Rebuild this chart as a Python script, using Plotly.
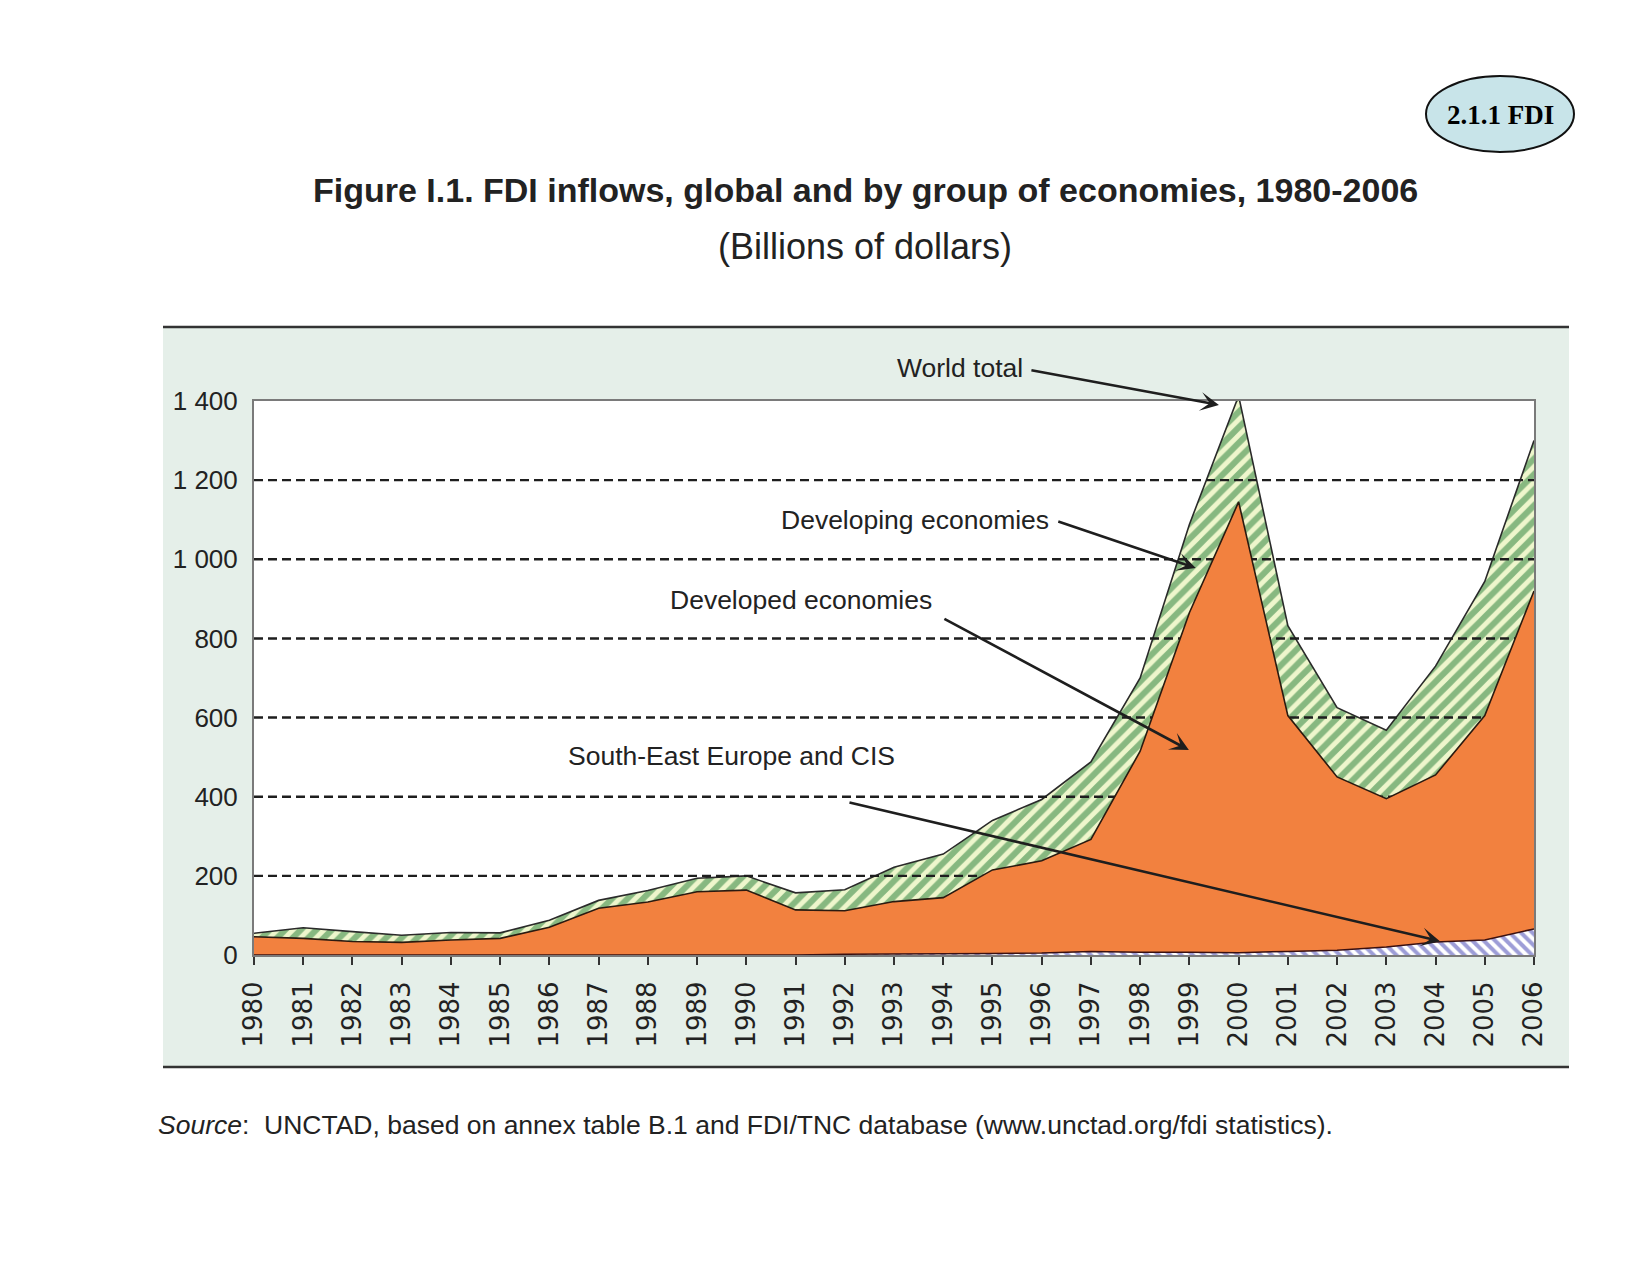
import plotly.graph_objects as go

# ---------------- data (billions of dollars) ----------------
years = list(range(1980, 2007))
developed = [46, 42, 34, 32, 38, 42, 70, 118, 134, 160,
             164, 114, 110, 133, 142, 211, 233, 283, 508, 858,
             1139, 596, 438, 375, 422, 567, 854]
developing = [9, 27, 25, 18, 19, 14, 18, 20, 29, 34,
              36, 43, 53, 87, 110, 125, 155, 196, 185, 223,
              268, 227, 175, 173, 275, 339, 380]
see_cis = [0, 0, 0, 0, 0, 0, 0, 0, 0, 0,
           0, 0, 2, 2, 3, 4, 5, 9, 7, 7,
           6, 9, 12, 20, 33, 38, 66]
y_tickvals = [0, 200, 400, 600, 800, 1000, 1200, 1400]
y_ticktext = ["0", "200", "400", "600", "800", "1 000", "1 200", "1 400"]
x_ticktext = [str(y) for y in years]

# cumulative levels for the stacked areas
lvl_see = see_cis
lvl_dev = [a + b for a, b in zip(see_cis, developed)]
lvl_world = [a + b for a, b in zip(lvl_dev, developing)]

NARROW = "Liberation Sans Narrow, Arial Narrow, Liberation Sans, Arial, sans-serif"
TXT = "#222222"

W, H = 1649, 1274
L, R, T, B = 254, 115, 401, 319

fig = go.Figure()

# developing economies (green hatch), drawn as area up to world total
fig.add_trace(go.Scatter(
    x=years, y=lvl_world, mode="lines", fill="tozeroy",
    line=dict(color="#2a2a2a", width=1.6),
    fillcolor="#eef6cc",
    fillpattern=dict(shape="/", fgcolor="#1f7a33", bgcolor="#eef6cc",
                     size=11, solidity=0.55),
    name="Developing economies", showlegend=False, hoverinfo="skip"))

# dashed gridlines (over the green band, under the orange area)
gx, gy = [], []
for v in y_tickvals[1:-1]:
    gx += [years[0], years[-1], None]
    gy += [v, v, None]
fig.add_trace(go.Scatter(x=gx, y=gy, mode="lines",
                         line=dict(color="#1e1e1e", width=2.4, dash="9px,5px"),
                         showlegend=False, hoverinfo="skip"))

# developed economies (orange)
fig.add_trace(go.Scatter(
    x=years, y=lvl_dev, mode="lines", fill="tozeroy",
    line=dict(color="#2a1a10", width=1.6),
    fillcolor="#f2813f",
    name="Developed economies", showlegend=False, hoverinfo="skip"))

# South-East Europe and CIS (blue hatch)
fig.add_trace(go.Scatter(
    x=years, y=lvl_see, mode="lines", fill="tozeroy",
    line=dict(color="#3a1010", width=1.5),
    fillcolor="#ffffff",
    fillpattern=dict(shape="\\", fgcolor="#3c3cb0", bgcolor="#ffffff",
                     size=8, solidity=0.5),
    name="South-East Europe and CIS", showlegend=False, hoverinfo="skip"))


def px_x(p):
    return (p - L) / (W - L - R)


def px_y(p):
    return (H - B - p) / (H - T - B)


shapes = [
    # light panel
    dict(type="rect", xref="paper", yref="paper", layer="below",
         x0=px_x(163), x1=px_x(1569), y0=px_y(1067), y1=px_y(327),
         fillcolor="#e5efe9", line=dict(width=0)),
    # white plotting area
    dict(type="rect", xref="paper", yref="paper", layer="below",
         x0=0, x1=1, y0=0, y1=1, fillcolor="#ffffff", line=dict(width=0)),
    # panel top and bottom rules
    dict(type="line", xref="paper", yref="paper",
         x0=px_x(163), x1=px_x(1569), y0=px_y(327), y1=px_y(327),
         line=dict(color="#333333", width=2.5)),
    dict(type="line", xref="paper", yref="paper",
         x0=px_x(163), x1=px_x(1569), y0=px_y(1067), y1=px_y(1067),
         line=dict(color="#333333", width=2.5)),
    # badge ellipse
    dict(type="circle", xref="paper", yref="paper",
         x0=px_x(1426), x1=px_x(1574), y0=px_y(152), y1=px_y(76),
         fillcolor="#c8e4e9", line=dict(color="#111111", width=2)),
]

annotations = [
    dict(text="<b>2.1.1 FDI</b>", xref="paper", yref="paper",
         x=px_x(1500), y=px_y(115), xanchor="center", yanchor="middle",
         showarrow=False,
         font=dict(family="Liberation Serif, Times New Roman, serif", size=27, color="#000000")),
    dict(text="<b>Figure I.1. FDI inflows, global and by group of economies, 1980-2006</b>",
         xref="paper", yref="paper", x=px_x(865), y=px_y(190),
         xanchor="center", yanchor="middle", showarrow=False,
         font=dict(family=NARROW, size=34, color=TXT)),
    dict(text="(Billions of dollars)", xref="paper", yref="paper",
         x=px_x(865), y=px_y(246), xanchor="center", yanchor="middle",
         showarrow=False, font=dict(family=NARROW, size=36, color=TXT)),
    dict(text="<i>Source</i>:  UNCTAD, based on annex table B.1 and FDI/TNC database (www.unctad.org/fdi statistics).",
         xref="paper", yref="paper", x=px_x(156), y=px_y(1125),
         xanchor="left", yanchor="middle",
         showarrow=False, font=dict(family=NARROW, size=26.5, color=TXT)),
]

labels = [
    ("World total", 960, 368, 1999.6, 1390, -189, -35),
    ("Developing economies", 915, 520, 1999.13, 978, -139, -47),
    ("Developed economies", 801, 600, 1998.99, 518, -246, -132),
    ("South-East Europe and CIS", 731, 756, 2004.09, 35, -592, -139),
]
for text, tx, ty, hx, hy, ax, ay in labels:
    annotations.append(dict(text=text, xref="paper", yref="paper",
                            x=px_x(tx), y=px_y(ty), xanchor="center",
                            yanchor="middle", showarrow=False,
                            font=dict(family=NARROW, size=26.5, color=TXT)))
    annotations.append(dict(text="", xref="x", yref="y", x=hx, y=hy,
                            ax=ax, ay=ay, axref="pixel", ayref="pixel",
                            showarrow=True, arrowhead=3, arrowsize=1.2,
                            arrowwidth=2.6, arrowcolor="#1e1e1e", standoff=0))

fig.update_layout(
    width=W, height=H,
    margin=dict(l=L, r=R, t=T, b=B, pad=0),
    paper_bgcolor="#ffffff", plot_bgcolor="#ffffff",
    shapes=shapes, annotations=annotations, showlegend=False,
    xaxis=dict(range=[1980, 2006], tickmode="array", tickvals=years,
               ticktext=x_ticktext, tickangle=-90, ticks="outside",
               ticklen=8, tickwidth=2, tickcolor="#333333",
               showgrid=False, zeroline=False, showline=True, mirror=True,
               linecolor="#7a7a7a", linewidth=2, ticklabelstandoff=6,
               tickfont=dict(family="DejaVu Sans, Verdana, sans-serif", size=26, color=TXT)),
    yaxis=dict(range=[0, 1400], tickmode="array", tickvals=y_tickvals,
               ticktext=y_ticktext, ticks="", showgrid=False, zeroline=False,
               showline=True, mirror=True, linecolor="#7a7a7a", linewidth=2,
               ticklabelstandoff=9,
               tickfont=dict(family=NARROW, size=26, color=TXT)),
)

fig.write_html("out.html", include_plotlyjs=True,
               config={"displayModeBar": False},
               post_script="document.body.style.margin='0';document.body.style.overflow='hidden';")
